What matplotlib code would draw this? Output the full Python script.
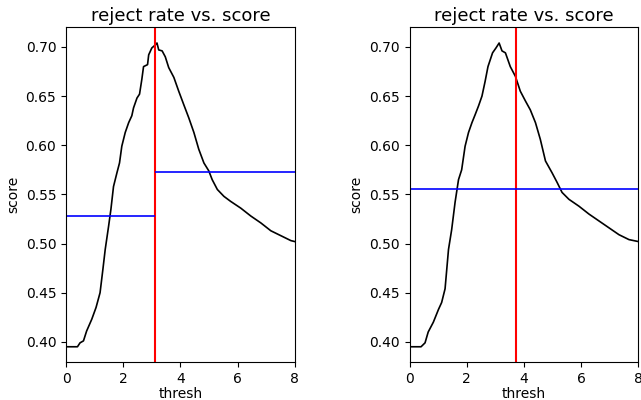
import numpy as np
import matplotlib
matplotlib.use('Agg')
import matplotlib.pyplot as plt

# ---- data ----
thresh_a = [0.0, 0.40, 0.49, 0.61, 0.72, 0.90, 1.05, 1.19, 1.29, 1.37, 1.49, 1.57,
            1.66, 1.78, 1.87, 1.95, 2.07, 2.19, 2.30, 2.36, 2.48, 2.57, 2.65, 2.71,
            2.85, 2.89, 3.00, 3.12, 3.18, 3.24, 3.36, 3.47, 3.59, 3.77, 3.94, 4.12,
            4.29, 4.47, 4.64, 4.82, 4.99, 5.11, 5.29, 5.52, 5.75, 6.11, 6.46, 6.81,
            7.16, 7.51, 7.86, 8.0]
score_a = [0.395, 0.395, 0.399, 0.401, 0.411, 0.423, 0.435, 0.450, 0.474, 0.494, 0.518, 0.535,
           0.558, 0.572, 0.582, 0.599, 0.613, 0.623, 0.630, 0.638, 0.648, 0.652, 0.667, 0.680,
           0.682, 0.692, 0.699, 0.702, 0.704, 0.697, 0.696, 0.690, 0.679, 0.669, 0.655, 0.641,
           0.628, 0.613, 0.596, 0.582, 0.574, 0.565, 0.555, 0.548, 0.543, 0.536, 0.528, 0.521,
           0.513, 0.508, 0.503, 0.502]

thresh_b = [0.0, 0.40, 0.54, 0.65, 0.83, 1.01, 1.12, 1.24, 1.30, 1.36, 1.47, 1.59,
            1.71, 1.82, 1.94, 2.06, 2.18, 2.29, 2.41, 2.53, 2.64, 2.74, 2.90, 3.02,
            3.13, 3.23, 3.35, 3.52, 3.70, 3.87, 4.05, 4.22, 4.40, 4.57, 4.75, 4.98,
            5.16, 5.33, 5.57, 5.92, 6.27, 6.62, 6.97, 7.32, 7.67, 8.0]
score_b = [0.395, 0.395, 0.399, 0.410, 0.420, 0.433, 0.440, 0.454, 0.474, 0.494, 0.514, 0.542,
           0.565, 0.575, 0.599, 0.613, 0.623, 0.631, 0.640, 0.650, 0.665, 0.680, 0.694, 0.699,
           0.704, 0.696, 0.694, 0.680, 0.670, 0.655, 0.645, 0.636, 0.623, 0.606, 0.584, 0.572,
           0.562, 0.552, 0.545, 0.538, 0.530, 0.523, 0.516, 0.509, 0.504, 0.502]

split = [3.12, 3.72]
left_mean = [0.528, 0.555]
right_mean = [0.573, 0.556]

fig = plt.figure(figsize=(6.41, 4.0), dpi=100)
axes = [fig.add_axes([0.103, 0.095, 0.357, 0.838]),
        fig.add_axes([0.639, 0.095, 0.357, 0.838])]

for k, (ax, xs, ys) in enumerate(zip(axes, [thresh_a, thresh_b], [score_a, score_b])):
    ax.plot(xs, ys, color='black', lw=1.2)
    ax.axvline(split[k], color='red', lw=1.5)
    ax.hlines(left_mean[k], 0, split[k], color='blue', lw=1.2)
    ax.hlines(right_mean[k], split[k], 8, color='blue', lw=1.2)
    ax.set_xlim(0, 8)
    ax.set_ylim(0.3795, 0.7205)
    ax.set_xticks([0, 2, 4, 6, 8])
    ax.set_yticks([0.40, 0.45, 0.50, 0.55, 0.60, 0.65, 0.70])
    ax.tick_params(labelsize=10)
    ax.set_xlabel('thresh', fontsize=10, labelpad=1)
    ax.set_ylabel('score', fontsize=10)
    ax.set_title('reject rate vs. score', fontsize=13, pad=4)

fig.savefig('out.png', dpi=100)
